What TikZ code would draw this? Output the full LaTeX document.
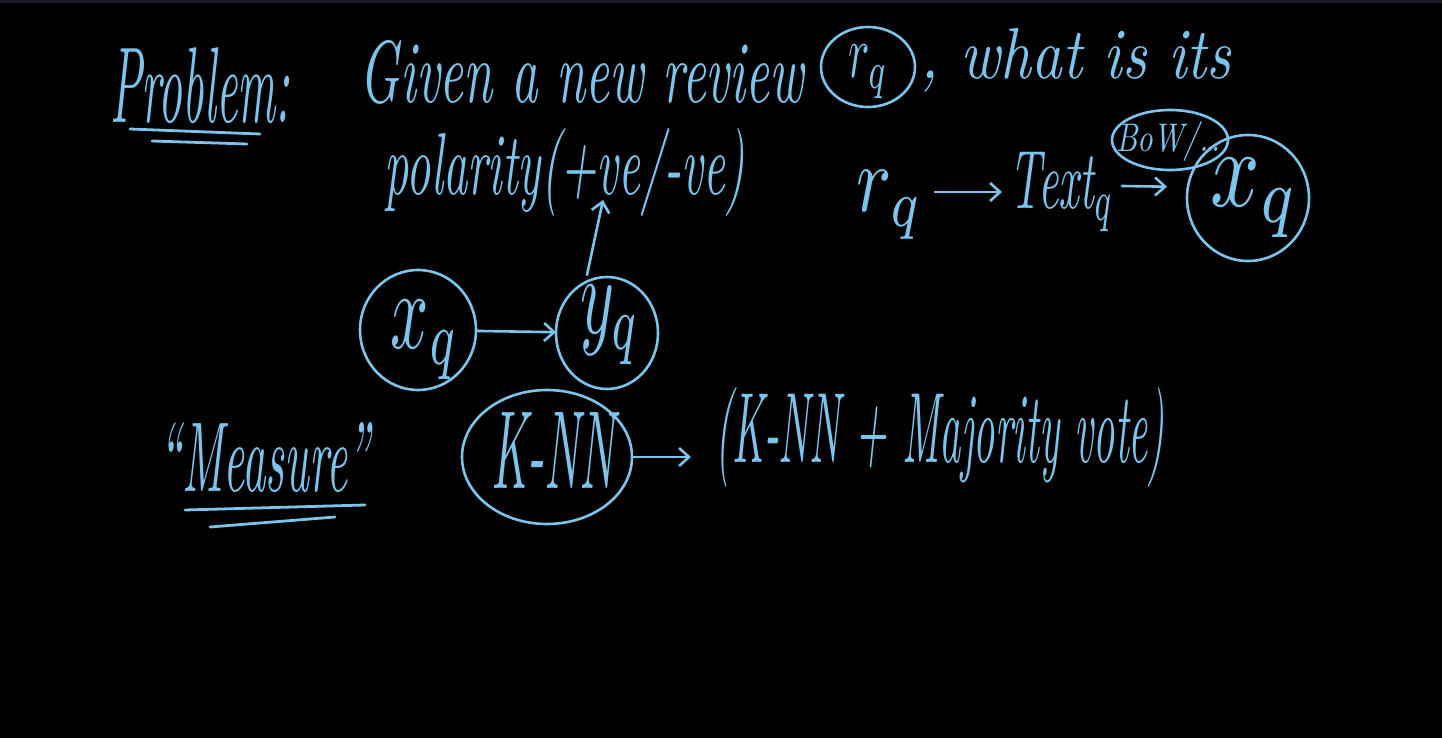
\documentclass[tikz,border=0pt]{standalone}
\usepackage{graphicx}
\usetikzlibrary{shapes.geometric,arrows.meta,calc}
\definecolor{chalk}{RGB}{124,196,236}
\definecolor{strip}{RGB}{28,24,36}
\newcommand{\hw}[3]{\resizebox*{#1}{#2}{\itshape #3}}
\begin{document}
\begin{tikzpicture}[x=0.5pt,y=-0.5pt,
  every node/.style={text=chalk, inner sep=0pt, outer sep=0pt},
  circ/.style={ellipse, draw=chalk, line width=1.3pt},
  arr/.style={draw=chalk, line width=1.3pt, line cap=round, -{Straight Barb[length=5pt,width=9pt]}},
  uline/.style={draw=chalk, line width=1.4pt, line cap=round}]
\fill[black] (0,0) rectangle (1442,738);
\fill[strip] (0,0) rectangle (1442,3);
\useasboundingbox (0,0) rectangle (1442,738);

% top line
\node (prob) at (200,86) {\hw{90pt}{38pt}{Problem:}};
\draw[uline] (130,129) -- (260,134);
\draw[uline] (152,141) -- (247,144);
\node (given) at (582,72) {\hw{222pt}{32pt}{Given a new review}};
\node[circ, minimum width=47pt, minimum height=40pt] (rqc) at (868,67) {};
\node (rqt) at (868,72) {\hw{20pt}{27pt}{$r_q$}};
\node (what) at (1076,60) {\hw{155pt}{32pt}{, what is its}};
\node (pol) at (565,172) {\hw{180pt}{44pt}{polarity(+ve/-ve)}};

% right pipeline
\node (rq2) at (890,205) {\hw{33pt}{34pt}{$r_q$}};
\node (textq) at (1062,192) {\hw{52pt}{40pt}{Text$_q$}};
\node[circ, minimum width=58pt, minimum height=30pt] (bowc) at (1170,140) {};
\node (bowt) at (1168,141) {\hw{52pt}{20pt}{BoW/\dots}};
\node[circ, minimum width=61pt, minimum height=63pt] (xq2) at (1248,198) {};
\node (xq2t) at (1255,198) {\hw{44pt}{40pt}{$x_q$}};
\draw[arr] ($(rq2.east)+(12,-13)$) -- ($(textq.west)+(-8,0)$);
\draw[arr, shorten >=10pt] ($(textq.east)+(8,-6)$) -- ($(xq2.west)+(0,-11)$);

% middle
\node[circ, minimum width=58pt, minimum height=60pt] (xq) at (418,330) {};
\node (xqt) at (425,340) {\hw{34pt}{40pt}{$x_q$}};
\node[circ, minimum width=51pt, minimum height=56pt] (yq) at (607,333) {};
\node (yqt) at (610,325) {\hw{30pt}{40pt}{$y_q$}};
\coordinate (up) at (603,200);
\draw[arr] (xq) -- (yq);
\draw[arr] ($(yq.north)+(-20,-2)$) -- (up);

% bottom
\node (meas) at (265,458) {\hw{105pt}{35pt}{``Measure''}};
\draw[uline] (185,510) -- (365,505);
\draw[uline] (210,527) -- (335,517);
\node[circ, minimum width=85pt, minimum height=67pt] (knn) at (547,457) {};
\node (knnt) at (553,450) {\hw{62pt}{38pt}{K-NN}};
\node (kmv) at (940,437) {\hw{225pt}{50pt}{(K-NN + Majority vote)}};
\draw[arr, shorten >=12pt] (knn.east) -- (knn.east -| kmv.west);
\end{tikzpicture}
\end{document}
